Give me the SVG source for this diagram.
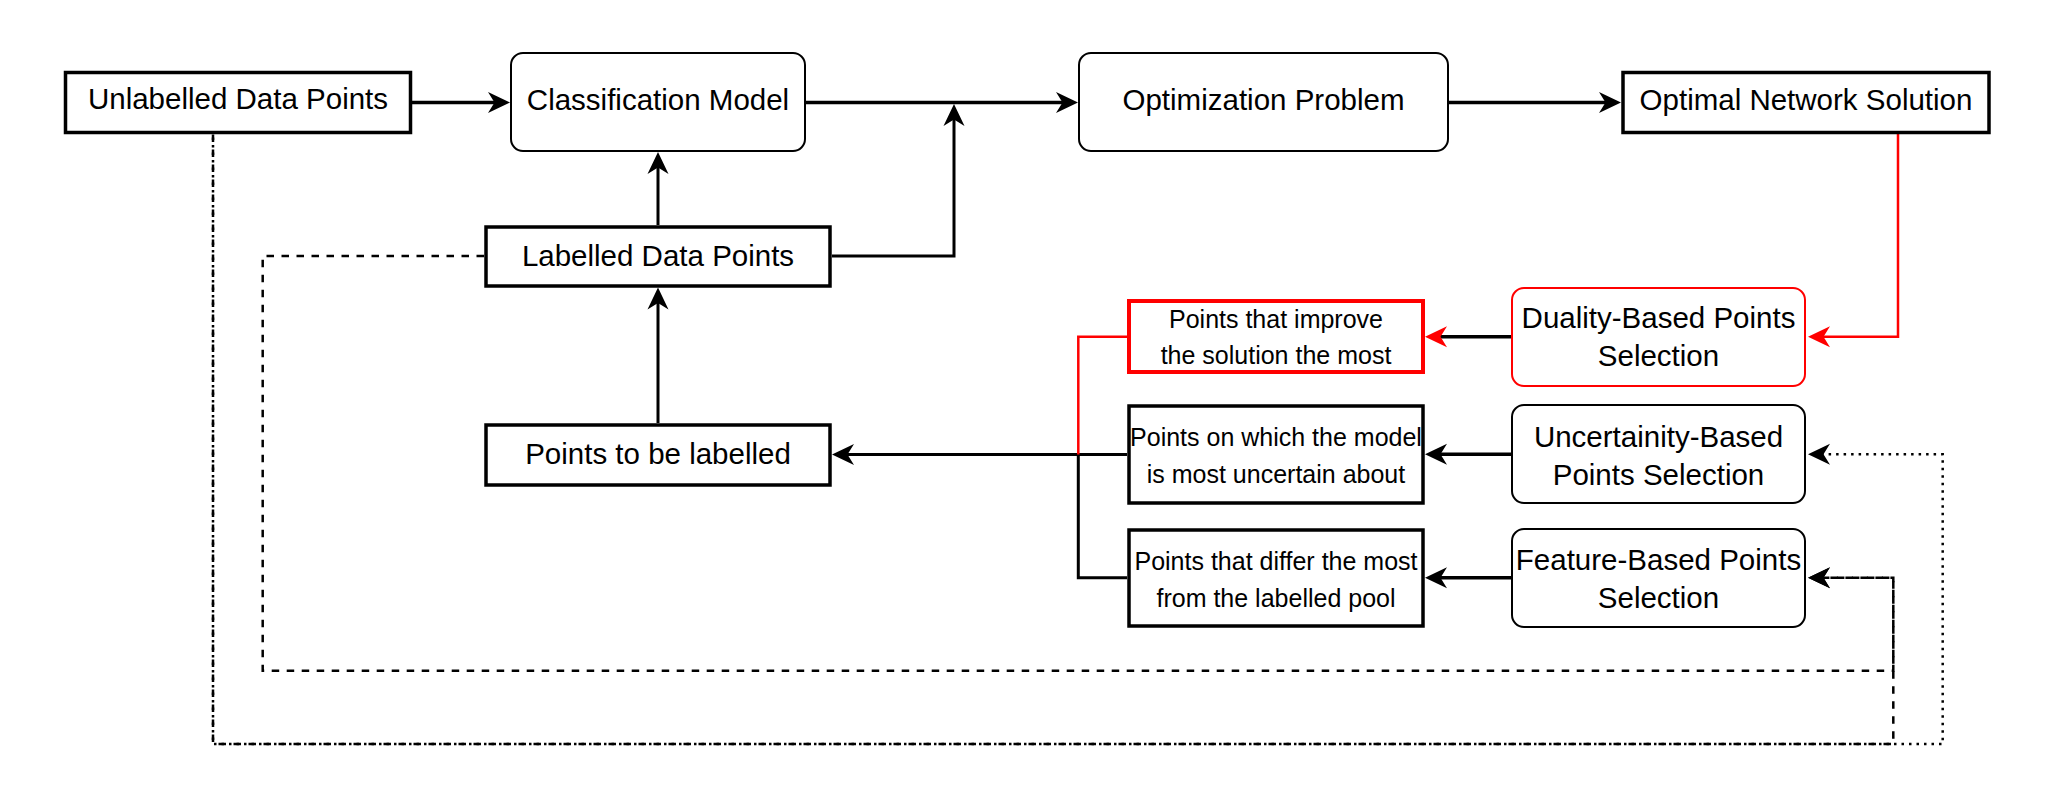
<svg xmlns="http://www.w3.org/2000/svg" width="2056" height="787" viewBox="0 0 2056 787">
<style>
text{font-family:"Liberation Sans",Arial,sans-serif;fill:#000;text-anchor:middle}
.big{font-size:29.5px}
.sm{font-size:25px}
.box{fill:#fff;stroke:#000;stroke-width:3.5}
.rbox{fill:#fff;stroke:#000;stroke-width:2}
.red{stroke:#FF0000}
.c{fill:none;stroke:#000;stroke-linejoin:miter}
.t{stroke-width:3.5}
.m{stroke-width:3}
.rl{stroke:#FF0000;stroke-width:2.5}
.dash{stroke-width:2.5;stroke-dasharray:7.5 7.5}
.dot{stroke-width:2.5;stroke-dasharray:2.5 5;stroke-dashoffset:4.5}
</style>
<defs>
<marker id="ah" markerUnits="userSpaceOnUse" markerWidth="22" markerHeight="22" viewBox="0 0 22 22" refX="15" refY="11" orient="auto">
<path d="M0,0.5 L22,11 L0,21.5 L6.5,11 Z" fill="#000"/>
</marker>
<marker id="ahr" markerUnits="userSpaceOnUse" markerWidth="22" markerHeight="22" viewBox="0 0 22 22" refX="15" refY="11" orient="auto">
<path d="M0,0.5 L22,11 L0,21.5 L6.5,11 Z" fill="#FF0000"/>
</marker>
</defs>
<rect width="2056" height="787" fill="#fff"/>
<g id="connectors">
<path class="c t" d="M412,102.5 H503" marker-end="url(#ah)"/>
<path class="c t" d="M806,102.5 H1071" marker-end="url(#ah)"/>
<path class="c t" d="M1449,102.5 H1614" marker-end="url(#ah)"/>
<path class="c m" d="M832,256 H954 V111" marker-end="url(#ah)"/>
<path class="c m" d="M658,225 V159" marker-end="url(#ah)"/>
<path class="c m" d="M658,423 V294.5" marker-end="url(#ah)"/>
<path class="c m" d="M1127,454.5 H839" marker-end="url(#ah)"/>
<path class="c m" d="M1127,577.7 H1078.3 V454.5"/>
<path class="c rl" d="M1127,336.7 H1078.3 V454.5"/>
<path class="c rl" d="M1898,134 V336.7 H1815" marker-end="url(#ahr)"/>
<path class="c t red" d="M1511,336.7 H1432" marker-end="url(#ahr)"/>
<path class="c t" d="M1511,454.3 H1432" marker-end="url(#ah)"/>
<path class="c t" d="M1511,577.7 H1432" marker-end="url(#ah)"/>
<path class="c dot" d="M213,134.5 V744 H1942.7 V454.3 H1815" marker-end="url(#ah)"/>
<path class="c dash" d="M213,134.5 V744 H1893.3 V577.7 H1815" marker-end="url(#ah)"/>
<path class="c dash" d="M484,256 H262.7 V670.7 H1893.3 V577.7 H1815" marker-end="url(#ah)"/>
</g>
<g id="unlabelled">
<rect class="box" x="65.5" y="72.5" width="345" height="60"/>
<text class="big" x="238" y="109">Unlabelled Data Points</text>
</g>
<g id="classification">
<rect class="rbox" x="511" y="53" width="294" height="98" rx="12"/>
<text class="big" x="658" y="110">Classification Model</text>
</g>
<g id="optimization">
<rect class="rbox" x="1079" y="53" width="369" height="98" rx="12"/>
<text class="big" x="1263.5" y="110">Optimization Problem</text>
</g>
<g id="optimal">
<rect class="box" x="1623" y="72.5" width="366" height="60"/>
<text class="big" x="1806" y="110">Optimal Network Solution</text>
</g>
<g id="labelled">
<rect class="box" x="486" y="227" width="344" height="59"/>
<text class="big" x="658" y="266">Labelled Data Points</text>
</g>
<g id="tobelabelled">
<rect class="box" x="486" y="425" width="344" height="60"/>
<text class="big" x="658" y="464">Points to be labelled</text>
</g>
<g id="improve">
<rect class="box red" x="1129" y="301" width="294" height="71" style="stroke-width:4"/>
<text class="sm" x="1276" y="327.5">Points that improve</text>
<text class="sm" x="1276" y="363.5">the solution the most</text>
</g>
<g id="uncertain">
<rect class="box" x="1129" y="406" width="294" height="97"/>
<text class="sm" x="1276" y="446">Points on which the model</text>
<text class="sm" x="1276" y="483">is most uncertain about</text>
</g>
<g id="differ">
<rect class="box" x="1129" y="530" width="294" height="96"/>
<text class="sm" x="1276" y="569.5">Points that differ the most</text>
<text class="sm" x="1276" y="607">from the labelled pool</text>
</g>
<g id="duality">
<rect class="rbox red" x="1512" y="288" width="293" height="98" rx="12"/>
<text class="big" x="1658.5" y="328">Duality-Based Points</text>
<text class="big" x="1658.5" y="366">Selection</text>
</g>
<g id="uncertainty">
<rect class="rbox" x="1512" y="405" width="293" height="98" rx="12"/>
<text class="big" x="1658.5" y="447">Uncertainity-Based</text>
<text class="big" x="1658.5" y="485">Points Selection</text>
</g>
<g id="feature">
<rect class="rbox" x="1512" y="529" width="293" height="98" rx="12"/>
<text class="big" x="1658.5" y="570">Feature-Based Points</text>
<text class="big" x="1658.5" y="608">Selection</text>
</g>
</svg>
